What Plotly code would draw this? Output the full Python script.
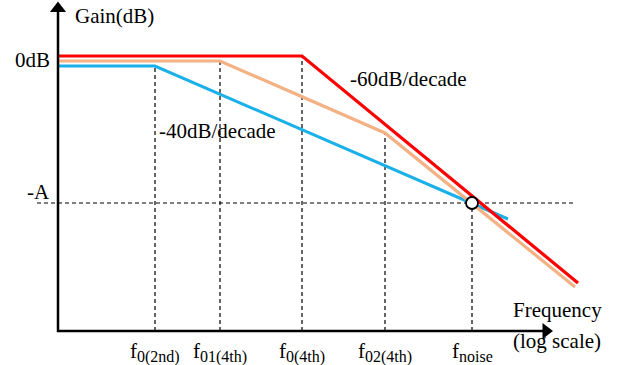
import plotly.graph_objects as go

# Asymptotic Bode magnitude (log10 frequency in decades from the axis origin, gain in dB)
red_x = [0.0, 2.44, 5.20]
red_y = [0.0, 0.0, -170.25]

orange_x = [0.0, 1.62, 3.27, 5.17]
orange_y = [-3.75, -3.75, -57.75, -173.25]

blue_x = [0.0, 0.97, 4.50]
blue_y = [-7.5, -7.5, -122.25]

# Corner / crossing frequencies and the noise threshold
tick_x = [0.97, 1.62, 2.44, 3.27, 4.14]
tick_top = [-7.5, -3.75, 0.0, -57.75, -110.25]
tick_subs = ["0(2nd)", "01(4th)", "0(4th)", "02(4th)", "noise"]
a_level = -110.25
noise_x = 4.14
floor_y = -206.25
y_axis_top = 34.0
x_axis_end = 4.85

FONT = "Liberation Serif"
FS = 21

fig = go.Figure()

# dashed guides
for xv, top in zip(tick_x, tick_top):
    fig.add_trace(go.Scatter(x=[xv, xv], y=[floor_y, top], mode="lines",
                             line=dict(color="black", width=1.2, dash="4px,3px"),
                             hoverinfo="skip", showlegend=False))
fig.add_trace(go.Scatter(x=[-0.21, 5.17], y=[a_level, a_level], mode="lines",
                         line=dict(color="black", width=1.2, dash="4px,3px"),
                         hoverinfo="skip", showlegend=False))

# gain curves
fig.add_trace(go.Scatter(x=blue_x, y=blue_y, mode="lines",
                         line=dict(color="#1AB0E8", width=3), showlegend=False))
fig.add_trace(go.Scatter(x=orange_x, y=orange_y, mode="lines",
                         line=dict(color="#F4B183", width=3.2), showlegend=False))
fig.add_trace(go.Scatter(x=red_x, y=red_y, mode="lines",
                         line=dict(color="#FF0000", width=3.2), showlegend=False))

# coordinate axes with arrowheads
fig.add_trace(go.Scatter(x=[0, 0, x_axis_end], y=[y_axis_top, floor_y, floor_y], mode="lines",
                         line=dict(color="black", width=2.5), hoverinfo="skip",
                         showlegend=False))
fig.add_trace(go.Scatter(x=[0], y=[y_axis_top + 1.6], mode="markers",
                         marker=dict(symbol="triangle-up", size=14, color="black"),
                         hoverinfo="skip", showlegend=False))
fig.add_trace(go.Scatter(x=[x_axis_end + 0.03], y=[floor_y], mode="markers",
                         marker=dict(symbol="triangle-right", size=14, color="black"),
                         hoverinfo="skip", showlegend=False))

# noise crossing marker
fig.add_trace(go.Scatter(x=[noise_x], y=[a_level], mode="markers",
                         marker=dict(size=12, color="white",
                                     line=dict(color="black", width=1.8)),
                         showlegend=False))

anns = []


def label(x, y, text, xanchor="left", yanchor="middle"):
    anns.append(dict(x=x, y=y, xref="x", yref="y", text=text, showarrow=False,
                     xanchor=xanchor, yanchor=yanchor,
                     font=dict(family=FONT, size=FS, color="black")))


label(0.15, 30.0, "Gain(dB)")
label(-0.06, -3.0, "0dB", xanchor="right")
label(-0.06, -102.0, "-A", xanchor="right")
label(2.90, -17.25, "-60dB/decade")
label(0.99, -56.25, "-40dB/decade")
label(4.53, -190.5, "Frequency")
label(4.53, -213.75, "(log scale)")

for xv, s in zip(tick_x, tick_subs):
    text = "f<sub><span style='font-size:16px'>" + s + "</span></sub>"
    anns.append(dict(x=xv, y=-222.0, xref="x", yref="y", text=text, showarrow=False,
                     xanchor="center", yanchor="middle",
                     font=dict(family=FONT, size=FS, color="black")))

fig.update_layout(
    width=622, height=365,
    margin=dict(l=0, r=0, t=0, b=0),
    paper_bgcolor="white", plot_bgcolor="white",
    xaxis=dict(range=[-0.58, 5.64], visible=False, fixedrange=True),
    yaxis=dict(range=[-231.75, 42.0], visible=False, fixedrange=True),
    annotations=anns,
    showlegend=False,
)

fig.write_html("out.html")
